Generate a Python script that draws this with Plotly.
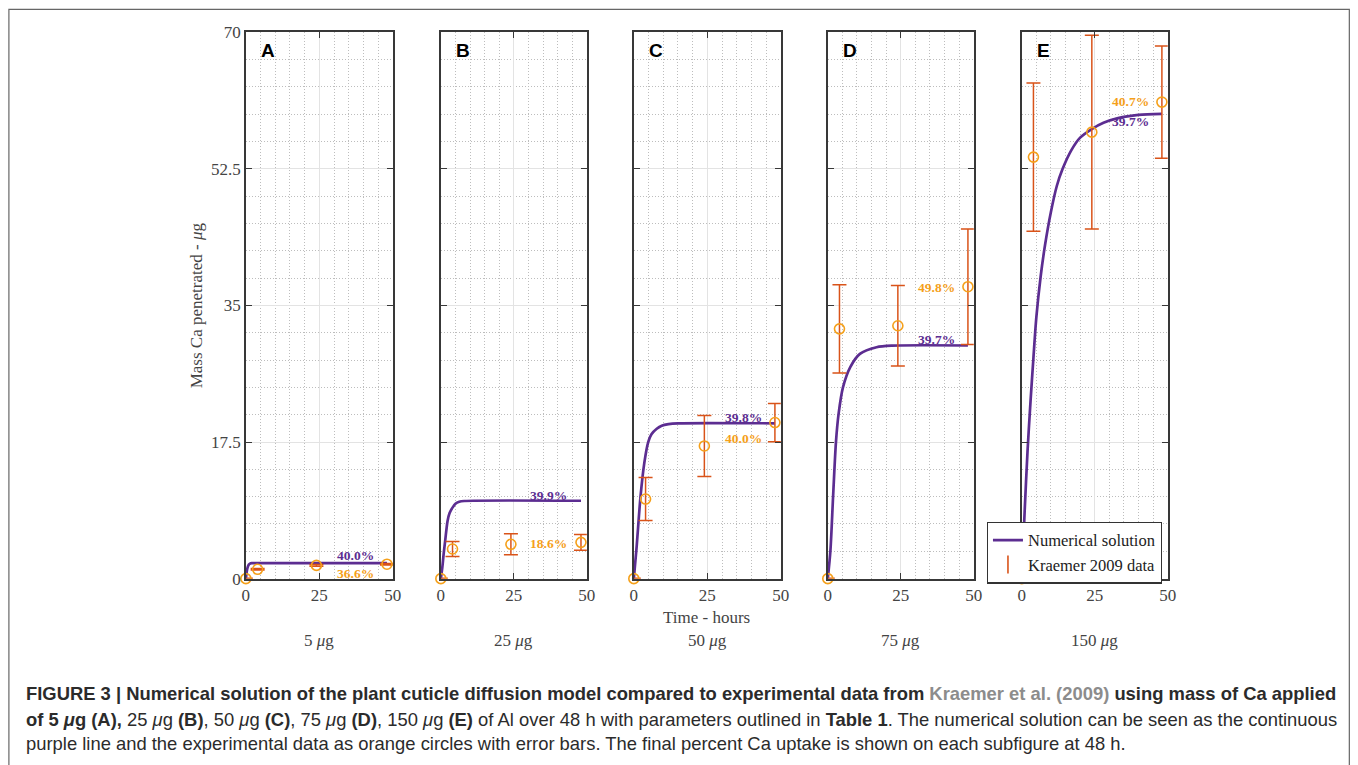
import plotly.graph_objects as go

# ---------------- data ----------------
panels = ["A", "B", "C", "D", "E"]
masses = ["5", "25", "50", "75", "150"]
time_data = [0, 4, 24, 48]

data_A = [0, 1.2, 1.7, 1.85]
err_A = [0.05, 0.1, 0.1, 0.1]
data_B = [0, 3.8, 4.4, 4.65]
err_B = [0.05, 0.95, 1.35, 1.0]
data_C = [0, 10.2, 17.0, 20.0]
err_C = [0.05, 2.75, 3.9, 2.45]
data_D = [0, 32.0, 32.4, 37.4]
err_D = [0.05, 5.65, 5.15, 7.4]
data_E = [0, 54.0, 57.2, 61.05]
err_E = [0.05, 9.5, 12.4, 7.2]

t_A = [0, 0.3, 0.6, 1.0, 1.5, 2.0, 3.0, 48]
m_A = [0, 0.9, 1.45, 1.8, 1.94, 1.98, 2.0, 2.0]
t_B = [0, 0.5, 1.0, 1.5, 2.3, 3.0, 4.0, 5.0, 6.3, 8.0, 48]
m_B = [0, 1.4, 3.3, 4.9, 7.4, 8.4, 9.1, 9.6, 9.85, 9.95, 9.98]
t_C = [0, 0.9, 2.3, 3.6, 4.9, 6.0, 7.8, 9.5, 11.8, 15, 48]
m_C = [0, 3.8, 10.6, 14.9, 17.5, 18.5, 19.2, 19.6, 19.8, 19.9, 19.9]
t_D = [0, 0.9, 1.8, 2.8, 3.7, 5.2, 7.7, 11, 16.7, 22, 48]
m_D = [0, 3.6, 10.4, 17.5, 21.1, 24.5, 27.1, 28.8, 29.65, 29.85, 29.87]
t_E = [0, 1, 2, 3, 4, 5, 6.5, 8, 10, 12, 14, 17, 20, 24, 28, 33, 40, 48]
m_E = [0, 8.7, 16.5, 22.7, 28.3, 33.5, 38.8, 42.8, 47.0, 50.3, 52.5, 54.9, 56.5, 57.6, 58.4, 59.0, 59.4, 59.55]

pct_model = ["40.0%", "39.9%", "39.8%", "39.7%", "39.7%"]
pct_data = ["36.6%", "18.6%", "40.0%", "49.8%", "40.7%"]

y_ticks = [0, 17.5, 35, 52.5, 70]
x_ticks = [0, 25, 50]

# ---------------- style / layout ----------------
W, H = 1358, 765
# measured page-to-picture mapping (picture = O + S * figure px)
SX, OX = 0.9913, 3.1
SY, OY = 0.9744, 8.8


def px_x(px):
    return ((px - OX) / SX) / W


def px_y(py):
    return 1 - ((py - OY) / SY) / H


PURPLE = "#5C2D91"
ORANGE = "#F5A01A"
RED = "#D95319"
AXC = "#383838"
TXT = "#444444"
SERIF = "Liberation Serif, Times New Roman, serif"
SANS = "Liberation Sans, Arial, sans-serif"

panel_px = [(245, 392), (440, 586), (633, 780), (827, 973), (1021, 1167)]
y_px = (32, 578)
label_pos = [  # (t, y) for model label, data label
    ((37.3, 2.95), (37.3, 0.7)),
    ((37.0, 10.7), (37.0, 4.49)),
    ((37.2, 20.7), (37.2, 17.9)),
    ((37.2, 30.6), (37.2, 37.35)),
    ((37.3, 58.6), (37.3, 61.07)),
]

curves = [(t_A, m_A), (t_B, m_B), (t_C, m_C), (t_D, m_D), (t_E, m_E)]
datas = [(data_A, err_A), (data_B, err_B), (data_C, err_C), (data_D, err_D), (data_E, err_E)]

fig = go.Figure()
annotations = []

for i, p in enumerate(panels):
    xa = "x" if i == 0 else f"x{i+1}"
    ya = "y" if i == 0 else f"y{i+1}"
    t, m = curves[i]
    fig.add_trace(go.Scatter(
        x=t, y=m, mode="lines", xaxis=xa, yaxis=ya,
        line=dict(color=PURPLE, width=2.7, shape="spline", smoothing=0.8),
        name="Numerical solution", showlegend=(i == 0), cliponaxis=False,
    ))
    d, e = datas[i]
    fig.add_trace(go.Scatter(
        x=time_data, y=d, mode="markers", xaxis=xa, yaxis=ya,
        marker=dict(symbol="circle-open", size=10, color=ORANGE, line=dict(width=1.6, color=ORANGE)),
        error_y=dict(type="data", array=e, visible=True, color=RED, thickness=1.5, width=7),
        name="Kraemer 2009 data", showlegend=False, cliponaxis=False,
    ))
    x0, x1 = panel_px[i]
    axis_common = dict(
        showline=True, linecolor=AXC, linewidth=1.5, mirror="ticks",
        ticks="inside", ticklen=6, tickcolor=AXC, tickwidth=1.3,
        zeroline=False, showgrid=True, gridcolor="#e3e3e3", gridwidth=1.4,
        tickfont=dict(family=SERIF, size=17, color=TXT),
    )
    fig.layout[f"xaxis{'' if i == 0 else i+1}"] = dict(
        domain=[px_x(x0), px_x(x1)], range=[0, 50], anchor=ya,
        tickvals=x_ticks, ticktext=[str(v) for v in x_ticks],
        minor=dict(dtick=5, tick0=0, showgrid=True, gridcolor="#bdbdbd", griddash="1px,2px",
                   gridwidth=1, ticks=""),
        **axis_common,
    )
    fig.layout[f"yaxis{'' if i == 0 else i+1}"] = dict(
        domain=[px_y(y_px[1]), px_y(y_px[0])], range=[0, 70], anchor=xa,
        tickvals=y_ticks, ticktext=[("%g" % v) for v in y_ticks],
        showticklabels=(i == 0),
        minor=dict(dtick=3.5, tick0=0, showgrid=True, gridcolor="#bdbdbd", griddash="1px,2px",
                   gridwidth=1, ticks=""),
        **axis_common,
    )
    (mx, my), (dx, dy) = label_pos[i]
    annotations.append(dict(x=mx, y=my, xref=xa, yref=ya, text=f"<b>{pct_model[i]}</b>", showarrow=False,
                            xanchor="center", yanchor="middle",
                            font=dict(family=SERIF, size=13.5, color=PURPLE)))
    annotations.append(dict(x=dx, y=dy, xref=xa, yref=ya, text=f"<b>{pct_data[i]}</b>", showarrow=False,
                            xanchor="center", yanchor="middle",
                            font=dict(family=SERIF, size=13.5, color=ORANGE)))
    annotations.append(dict(x=4.5, y=70, xref=xa, yref=ya, text=f"<b>{p}</b>", showarrow=False,
                            xanchor="left", yanchor="top", yshift=-6,
                            font=dict(family=SANS, size=19, color="#000000")))
    annotations.append(dict(x=px_x((x0 + x1) / 2), y=px_y(640), xref="paper", yref="paper",
                            xanchor="center", yanchor="middle",
                            text=f"{masses[i]} <i>μ</i>g", showarrow=False,
                            font=dict(family=SERIF, size=17, color=TXT)))

# legend entry for the data series (error-bar glyph)
fig.add_trace(go.Scatter(
    x=[None], y=[None], mode="markers", xaxis="x5", yaxis="y5",
    marker=dict(symbol="line-ns", size=13, color=RED, line=dict(width=1.6, color=RED)),
    name="Kraemer 2009 data", showlegend=True,
))

annotations.append(dict(x=px_x(706), y=px_y(617), xref="paper", yref="paper", text="Time - hours",
                        xanchor="center", yanchor="middle",
                        showarrow=False, font=dict(family=SERIF, size=17, color=TXT)))
annotations.append(dict(x=px_x(196), y=px_y(305), xref="paper", yref="paper",
                        text="Mass Ca penetrated - <i>μ</i>g", textangle=-90,
                        xanchor="center", yanchor="middle",
                        showarrow=False, font=dict(family=SERIF, size=17, color=TXT)))

cap_lines = [
    "<b>FIGURE 3 | Numerical solution of the plant cuticle diffusion model compared to experimental data from "
    "<span style='color:#8c8c8c'>Kraemer et al. (2009)</span> using mass of Ca applied</b>",
    "<b>of 5 <i>μ</i>g (A),</b> 25 <i>μ</i>g <b>(B)</b>, 50 <i>μ</i>g <b>(C)</b>, 75 <i>μ</i>g <b>(D)</b>, "
    "150 <i>μ</i>g <b>(E)</b> of Al over 48 h with parameters outlined in <b>Table 1</b>. "
    "The numerical solution can be seen as the continuous",
    "purple line and the experimental data as orange circles with error bars. "
    "The final percent Ca uptake is shown on each subfigure at 48 h.",
]
cap_y = [693, 719, 743]
for txt, yy in zip(cap_lines, cap_y):
    annotations.append(dict(x=px_x(23), y=px_y(yy), xref="paper", yref="paper", text=txt,
                            xanchor="left", yanchor="middle", showarrow=False, align="left",
                            font=dict(family=SANS, size=18.4, color="#2b2b2b")))

fig.update_layout(
    width=W, height=H, margin=dict(l=0, r=0, t=0, b=0, pad=0),
    paper_bgcolor="white", plot_bgcolor="white",
    annotations=annotations,
    showlegend=True,
    legend=dict(x=px_x(986), y=px_y(521), xanchor="left", yanchor="top",
                bgcolor="white", bordercolor="#333333", borderwidth=1.2,
                font=dict(family=SERIF, size=16.5, color="#222222"),
                itemwidth=30, tracegroupgap=0),
    shapes=[dict(type="rect", xref="paper", yref="paper", x0=px_x(8), x1=0.9995,
                 y0=px_y(775), y1=0.9995, line=dict(color="#666666", width=1.2))],
)

fig.write_html("out.html", config={"displayModeBar": False},
               post_script="document.body.style.margin='0';document.body.style.overflow='hidden';")
